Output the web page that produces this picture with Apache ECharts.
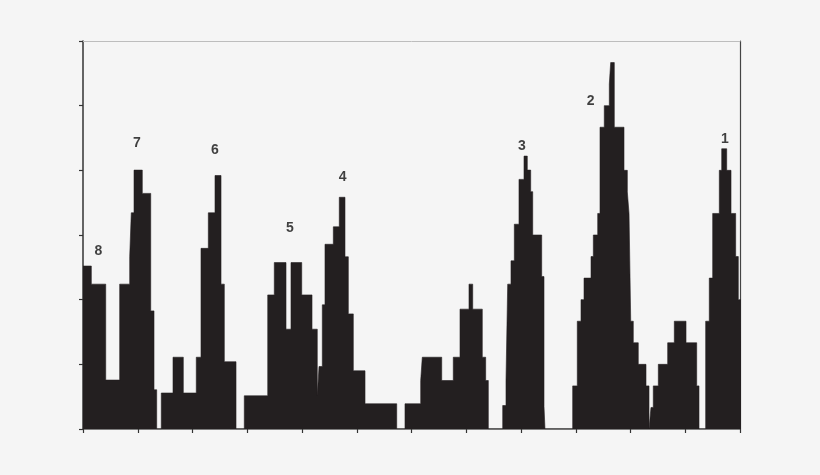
<!DOCTYPE html>
<html>
<head>
<meta charset="utf-8">
<script src="https://cdn.jsdelivr.net/npm/echarts@6/dist/echarts.min.js"></script>
<style>
  html, body { margin: 0; padding: 0; background: #f5f5f5; }
  #chart { width: 820px; height: 475px; }
</style>
</head>
<body>
<div id="chart"></div>
<script>
// bin edges along the x axis (0..120) and the height of each bin (0..18)
var binEdges = [
    0, 1.52, 4.15, 6.70, 8.53, 8.82, 9.32, 10.83, 12.37, 12.97, 13.46,
    14.30, 16.44, 18.32, 20.69, 21.55, 22.89, 24.11, 25.21, 25.81, 27.95,
    29.46, 33.06, 33.74, 34.94, 37.08, 37.99, 39.95, 41.83, 42.79, 43.11,
    43.71, 44.20, 45.72, 46.81, 47.85, 48.46, 49.37, 51.51, 57.30, 58.81,
    61.68, 61.97, 65.52, 67.63, 68.86, 70.50, 71.18, 72.93, 73.55, 74.03,
    76.66, 77.26, 77.57, 78.17, 78.78, 79.63, 80.55, 81.15, 81.77, 82.14,
    83.78, 84.20, 84.38, 89.44, 90.28, 90.96, 91.51, 92.79, 93.21, 94.01,
    94.43, 95.21, 96.13, 96.38, 97.04, 98.81, 99.42, 99.73, 100.04, 100.51,
    101.42, 102.83, 103.38, 103.74, 104.16, 105.08, 106.79, 108.00, 110.14, 112.09,
    112.51, 113.73, 114.39, 115.01, 116.22, 116.66, 117.57, 118.36, 119.21, 119.69,
    120.13, 120.37
];
var counts = [
    7.56, 6.72, 2.27, 6.72, 7.99, 10.03, 12.01, 10.93, 5.48, 1.82,
    0, 1.67, 3.33, 1.67, 3.33, 8.38, 10.03, 11.76, 6.72, 3.12,
    0, 1.54, 1.54, 6.22, 7.72, 4.63, 7.72, 6.22, 4.63, 1.54,
    2.90, 5.76, 8.57, 9.38, 10.75, 7.99, 5.34, 2.70, 1.17, 0,
    1.17, 2.25, 3.33, 2.25, 3.33, 5.56, 6.72, 5.56, 3.33, 2.25,
    0, 1.09, 2.25, 6.72, 7.80, 9.50, 11.58, 12.66, 12.01, 11.01,
    9.00, 7.07, 1.05, 0, 2, 5, 6, 7, 8, 9,
    10, 14, 15, 16, 17, 14, 12, 11, 10, 5,
    4, 3, 2, 0, 1, 2, 3, 4, 5, 4,
    2, 0, 5, 7, 10, 12, 13, 12, 10, 8,
    6, 5
];

// peak numbers and where they sit
var peakNames = ['1', '2', '3', '4', '5', '6', '7', '8'];
var peakX = [117.26, 92.73, 80.18, 47.43, 37.81, 24.11, 9.86, 2.79];
var peakY = [13.43, 15.22, 13.12, 11.67, 9.32, 12.94, 13.26, 8.23];

// step outline: each bin starts at its left edge, the last one closes at the right edge
var steps = [];
for (var i = 0; i < counts.length; i++) {
    steps.push([binEdges[i], counts[i]]);
}
steps.push([binEdges[counts.length], counts[counts.length - 1]]);
steps.push([binEdges[counts.length], 0]);

var peaks = peakNames.map(function (n, i) {
    return [peakX[i], peakY[i], n];
});

var myChart = echarts.init(document.getElementById('chart'));

var option = {
    backgroundColor: '#f5f5f5',
    animation: false,
    grid: { left: 83, right: 80, top: 41, bottom: 46 },
    xAxis: [
        {
            type: 'value',
            min: 0,
            max: 120,
            interval: 10,
            axisLine: { onZero: false, lineStyle: { color: '#555555', width: 1.5 } },
            axisTick: { show: true, length: 4, lineStyle: { color: '#333333', width: 1.2 } },
            axisLabel: { show: false },
            splitLine: { show: false }
        },
        {
            type: 'value',
            position: 'top',
            min: 0,
            max: 120,
            axisLine: { show: true, onZero: false, lineStyle: { color: '#bdbdbd', width: 1 } },
            axisTick: { show: false },
            axisLabel: { show: false },
            splitLine: { show: false }
        }
    ],
    yAxis: [
        {
            type: 'value',
            min: 0,
            max: 18,
            interval: 3,
            axisLine: { show: true, onZero: false, lineStyle: { color: '#333333', width: 1.5 } },
            axisTick: { show: true, length: 4, lineStyle: { color: '#333333', width: 1.2 } },
            axisLabel: { show: false },
            splitLine: { show: false }
        },
        {
            type: 'value',
            position: 'right',
            min: 0,
            max: 18,
            axisLine: { show: true, onZero: false, lineStyle: { color: '#444444', width: 1.2 } },
            axisTick: { show: false },
            axisLabel: { show: false },
            splitLine: { show: false }
        }
    ],
    series: [
        {
            type: 'line',
            step: 'end',
            data: steps,
            showSymbol: false,
            symbol: 'none',
            lineStyle: { width: 0.6, color: '#231f20' },
            areaStyle: { color: '#231f20', opacity: 1 },
            z: 3
        },
        {
            type: 'scatter',
            symbolSize: 0,
            data: peaks,
            z: 4,
            label: {
                show: true,
                position: 'inside',
                formatter: function (p) { return p.value[2]; },
                color: '#111111',
                fontFamily: 'Liberation Sans, Arial, sans-serif',
                fontWeight: 'bold',
                fontSize: 14
            }
        }
    ]
};

myChart.setOption(option);
</script>
</body>
</html>
